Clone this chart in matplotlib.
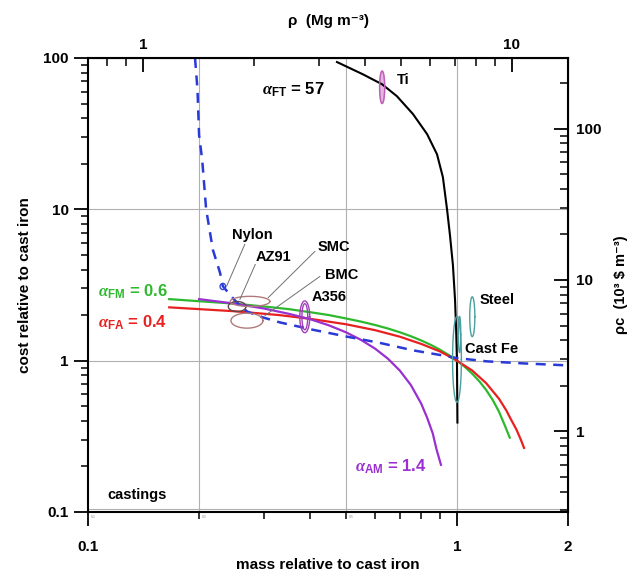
import numpy as np
import matplotlib.pyplot as plt

plt.rcParams['font.family'] = ['Liberation Sans', 'DejaVu Sans']
plt.rcParams['font.weight'] = 'bold'
plt.rcParams['axes.labelweight'] = 'bold'
plt.rcParams['mathtext.fontset'] = 'custom'
plt.rcParams['mathtext.it'] = 'Liberation Serif:italic'
plt.rcParams['mathtext.bf'] = 'Liberation Sans:bold'
plt.rcParams['mathtext.rm'] = 'Liberation Sans'

RHO_FE = 7.1    # Mg/m3, for the top scale
RHOC_FE = 2.93  # 10^3 $/m3, for the right scale

# trade-off lines, (mass relative, cost relative)
ft_m = [0.473, 0.556, 0.627, 0.687, 0.760, 0.830, 0.883, 0.916, 0.940, 0.957, 0.975,
        0.988, 0.995, 1.0, 1.003]
ft_c = [94, 78, 67, 56, 42.6, 31.4, 23.1, 16.3, 10, 6.8, 4.3, 2.54, 1.6, 1.0, 0.39]

fm_m = [0.166, 0.2, 0.25, 0.3, 0.35, 0.4, 0.45, 0.5, 0.55, 0.6, 0.65, 0.7, 0.75, 0.8,
        0.85, 0.9, 0.95, 1.0, 1.05, 1.1, 1.15, 1.2, 1.25, 1.3, 1.35, 1.39]
fm_c = [2.55, 2.47, 2.38, 2.28, 2.19, 2.09, 2.0, 1.9, 1.81, 1.72, 1.63, 1.54, 1.45, 1.36,
        1.27, 1.18, 1.09, 1.0, 0.91, 0.82, 0.73, 0.64, 0.55, 0.46, 0.37, 0.31]

fa_m = [0.166, 0.25, 0.33, 0.4, 0.5, 0.6, 0.7, 0.8, 0.9, 1.0, 1.1, 1.2, 1.3, 1.36,
        1.4, 1.45, 1.49, 1.52]
fa_c = [2.25, 2.12, 2.0, 1.89, 1.74, 1.59, 1.44, 1.29, 1.15, 1.0, 0.86, 0.71, 0.56, 0.47,
        0.41, 0.35, 0.30, 0.265]

am_m = [0.2, 0.25, 0.3, 0.35, 0.4, 0.45, 0.5, 0.55, 0.6, 0.65, 0.7, 0.75, 0.8, 0.83,
        0.86, 0.88, 0.905]
am_c = [2.55, 2.38, 2.21, 2.04, 1.88, 1.71, 1.54, 1.37, 1.2, 1.03, 0.86, 0.69, 0.52,
        0.42, 0.33, 0.26, 0.205]

iso_m = [0.195, 0.198, 0.200, 0.204, 0.209, 0.218, 0.228, 0.232, 0.250, 0.270, 0.298,
         0.331, 0.407, 0.504, 0.618, 0.760, 0.90, 1.0, 1.2, 1.5, 2.0]
iso_c = [100, 62, 31, 21, 10, 5.4, 3.8, 3.1, 2.5, 2.11, 1.93,
         1.79, 1.60, 1.44, 1.31, 1.17, 1.09, 1.04, 0.99, 0.96, 0.93]

# material bubbles: name, m_lo, m_hi, c_lo, c_hi
materials = [
    ("Nylon", 0.228, 0.236, 2.95, 3.24),
    ("AZ91", 0.240, 0.268, 2.11, 2.46),
    ("SMC", 0.243, 0.311, 2.28, 2.66),
    ("BMC", 0.244, 0.298, 1.64, 2.06),
    ("A356", 0.375, 0.399, 1.53, 2.48),
    ("Ti", 0.617, 0.637, 50, 82),
    ("Steel", 1.083, 1.118, 1.44, 2.64),
    ("Cast Fe", 0.973, 1.028, 0.53, 1.96),
]
bubble_col = {"Nylon": "#3344dd", "AZ91": "#604848", "SMC": "#b07a7a", "BMC": "#b07a7a",
              "A356": "#a040b8", "Ti": "#c060b8", "Steel": "#4a9f9f", "Cast Fe": "#4a9f9f"}


def bubble(ax, m_lo, m_hi, c_lo, c_hi, fill=False, **kw):
    t = np.linspace(0, 2 * np.pi, 120)
    lm, am = (np.log10(m_lo) + np.log10(m_hi)) / 2, (np.log10(m_hi) - np.log10(m_lo)) / 2
    lc, ac = (np.log10(c_lo) + np.log10(c_hi)) / 2, (np.log10(c_hi) - np.log10(c_lo)) / 2
    x = 10 ** (lm + am * np.cos(t))
    y = 10 ** (lc + ac * np.sin(t))
    if fill:
        ax.fill(x, y, alpha=0.45, **kw)
    ax.plot(x, y, lw=1.0, **kw)


fig = plt.figure(figsize=(6.36, 5.77), dpi=100)
ax = fig.add_axes([0.1384, 0.1127, 0.7547, 0.7868])
ax.set_xscale('log')
ax.set_yscale('log')
ax.set_xlim(0.1, 2)
ax.set_ylim(0.1, 100)

# grid
for gx in [0.2, 0.5, 1]:
    ax.axvline(gx, color='#b0b0b0', lw=0.8, zorder=0)
for gy in [0.105, 1, 10]:
    ax.axhline(gy, color='#b0b0b0', lw=0.8, zorder=0)

ax.plot(ft_m, ft_c, color='black', lw=1.5)
ax.plot(fm_m, fm_c, color='#2eb82e', lw=1.6)
ax.plot(fa_m, fa_c, color='#e82020', lw=1.6)
ax.plot(am_m, am_c, color='#9a30d0', lw=1.6)
ax.plot(iso_m, iso_c, color='#2a3ad8', lw=1.8, ls=(0, (4, 3)))

for name, m_lo, m_hi, c_lo, c_hi in materials:
    bubble(ax, m_lo, m_hi, c_lo, c_hi, fill=(name == "Ti"), color=bubble_col[name])
    if name == "A356":
        bubble(ax, 0.380, 0.394, 1.60, 2.38, color=bubble_col[name])
    if name == "Cast Fe":
        bubble(ax, 1.009, 1.024, 1.13, 1.96, color=bubble_col[name])

# material labels
fs = 10.5
ax.text(0.245, 6.8, "Nylon", fontsize=fs, ha='left', va='center')
ax.text(0.284, 4.85, "AZ91", fontsize=fs, ha='left', va='center')
ax.text(0.418, 5.6, "SMC", fontsize=fs, ha='left', va='center')
ax.text(0.439, 3.7, "BMC", fontsize=fs, ha='left', va='center')
ax.text(0.405, 2.62, "A356", fontsize=fs, ha='left', va='center')
ax.text(0.687, 71, "Ti", fontsize=fs, ha='left', va='center')
ax.text(1.154, 2.5, "Steel", fontsize=fs, ha='left', va='center')
ax.text(1.05, 1.2, "Cast Fe", fontsize=fs, ha='left', va='center')
ax.text(0.136, 0.13, "castings", fontsize=fs, ha='center', va='center')

# leader lines
lead = dict(color='#707070', lw=0.7)
ax.plot([0.266, 0.238], [5.87, 3.14], **lead)
ax.plot([0.284, 0.258], [4.32, 2.54], **lead)
ax.plot([0.412, 0.308], [5.27, 2.61], **lead)
ax.plot([0.425, 0.302], [3.6, 1.99], **lead)

# exchange-constant labels
afs = 12
ax.text(0.361, 62, r"$\alpha_{\mathbf{FT}}$ = 57", fontsize=afs, ha='center', va='center')
ax.text(0.132, 2.86, r"$\alpha_{\mathbf{FM}}$ = 0.6", fontsize=afs, ha='center',
        va='center', color='#2eb82e')
ax.text(0.132, 1.79, r"$\alpha_{\mathbf{FA}}$ = 0.4", fontsize=afs, ha='center',
        va='center', color='#e82020')
ax.text(0.662, 0.199, r"$\alpha_{\mathbf{AM}}$ = 1.4", fontsize=afs, ha='center',
        va='center', color='#9a30d0')

# tiny marks on bottom grid lines
for gx, lab in [(0.1, "0.1"), (0.2, "0.2"), (0.5, "0.5")]:
    ax.text(gx * 1.02, 0.096, lab, fontsize=2.5, color='#909090', ha='left', va='top',
            fontweight='normal')

# axes styling
for s in ax.spines.values():
    s.set_linewidth(1.5)
ax.set_xticks([0.1, 1, 2])
ax.set_xticklabels(["0.1", "1", "2"])
ax.set_yticks([0.1, 1, 10, 100])
ax.set_yticklabels(["0.1", "1", "10", "100"])
ax.tick_params(which='major', direction='out', length=10, width=1.3, labelsize=11, pad=4)
ax.tick_params(which='minor', direction='out', length=5, width=1.1)
ax.tick_params(axis='x', which='major', pad=10)
ax.set_xlabel("mass relative to cast iron", fontsize=11, labelpad=3)
ax.set_ylabel("cost relative to cast iron", fontsize=11, labelpad=8)

top = ax.secondary_xaxis('top', functions=(lambda m: m * RHO_FE, lambda r: r / RHO_FE))
top.set_xscale('log')
top.set_xticks([1, 10])
top.set_xticklabels(["1", "10"])
top.tick_params(which='major', direction='in', length=10, width=1.3, labelsize=11, pad=4)
top.tick_params(which='minor', direction='in', length=6, width=1.1)
top.set_xlabel("ρ  (Mg m⁻³)", fontsize=11, labelpad=10)

right = ax.secondary_yaxis('right', functions=(lambda c: c * RHOC_FE, lambda r: r / RHOC_FE))
right.set_yscale('log')
right.set_yticks([1, 10, 100])
right.set_yticklabels(["1", "10", "100"])
right.tick_params(which='major', direction='in', length=10, width=1.3, labelsize=11, pad=6)
right.tick_params(which='minor', direction='in', length=6, width=1.1)
right.set_ylabel("ρc  (10³ $ m⁻³)", fontsize=10.5, labelpad=9)

plt.savefig("out.png", dpi=100)
